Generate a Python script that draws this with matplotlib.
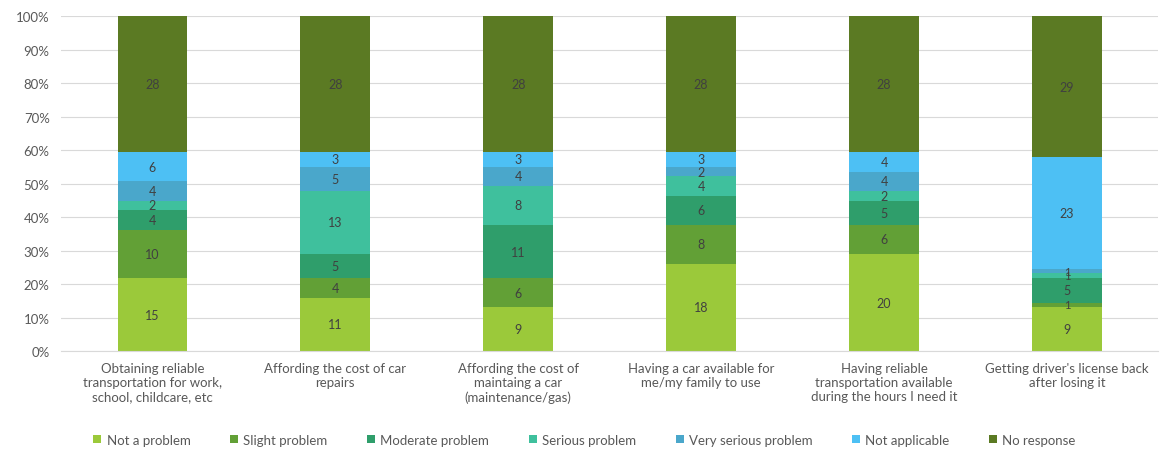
import matplotlib.pyplot as plt
import numpy as np

plt.rcParams['font.family'] = ['Lato', 'DejaVu Sans']

categories = ["Obtaining reliable\ntransportation for work,\nschool, childcare, etc",
              "Affording the cost of car\nrepairs",
              "Affording the cost of\nmaintaing a car\n(maintenance/gas)",
              "Having a car available for\nme/my family to use",
              "Having reliable\ntransportation available\nduring the hours I need it",
              "Getting driver's license back\nafter losing it"]
series = ["Not a problem", "Slight problem", "Moderate problem", "Serious problem",
          "Very serious problem", "Not applicable", "No response"]
not_a_problem = [15, 11, 9, 18, 20, 9]
slight = [10, 4, 6, 8, 6, 1]
moderate = [4, 5, 11, 6, 5, 5]
serious = [2, 13, 8, 4, 2, 1]
very_serious = [4, 5, 4, 2, 4, 1]
not_applicable = [6, 3, 3, 3, 4, 23]
no_response = [28, 28, 28, 28, 28, 29]
colors = ["#9bc93a", "#62a036", "#2f9e6b", "#3fc09d", "#4aa7cb", "#4dc0f4", "#5b7a23"]

data = np.array([not_a_problem, slight, moderate, serious, very_serious,
                 not_applicable, no_response], dtype=float)
pct = data / data.sum(axis=0) * 100

fig = plt.figure(figsize=(11.69, 4.52), dpi=100)
ax = fig.add_axes([0.052, 0.221, 0.939, 0.741])
x = np.arange(len(categories))
bottom = np.zeros(len(categories))
for i, name in enumerate(series):
    ax.bar(x, pct[i], 0.38, bottom=bottom, color=colors[i], label=name, zorder=2)
    for j in range(len(categories)):
        # tiny segments get a slightly smaller label
        fs = 8 if data[i][j] < 2 else 9
        ax.text(x[j], bottom[j] + pct[i][j] / 2, f"{int(data[i][j])}",
                ha='center', va='center', fontsize=fs, color='#404040', zorder=3)
    bottom += pct[i]

ax.set_xlim(-0.5, len(categories) - 0.5)
ax.set_ylim(0, 100)
ax.set_yticks(range(0, 101, 10))
ax.set_yticklabels([f"{v}%" for v in range(0, 101, 10)])
ax.set_xticks(x)
ax.set_xticklabels(categories)
ax.yaxis.grid(True, color='#d9d9d9', linewidth=0.8, zorder=0)
ax.tick_params(length=0, labelsize=9.5, colors='#595959', pad=8)
for s in ax.spines.values():
    s.set_visible(False)
ax.spines['bottom'].set_visible(True)
ax.spines['bottom'].set_color('#d9d9d9')

fig.legend(loc='lower center', bbox_to_anchor=(0.5, -0.015), ncol=7, frameon=False,
           fontsize=9.5, handlelength=0.6, handleheight=0.6, handletextpad=0.4,
           columnspacing=3.0, labelcolor='#595959')

fig.savefig("out.png", dpi=100)
